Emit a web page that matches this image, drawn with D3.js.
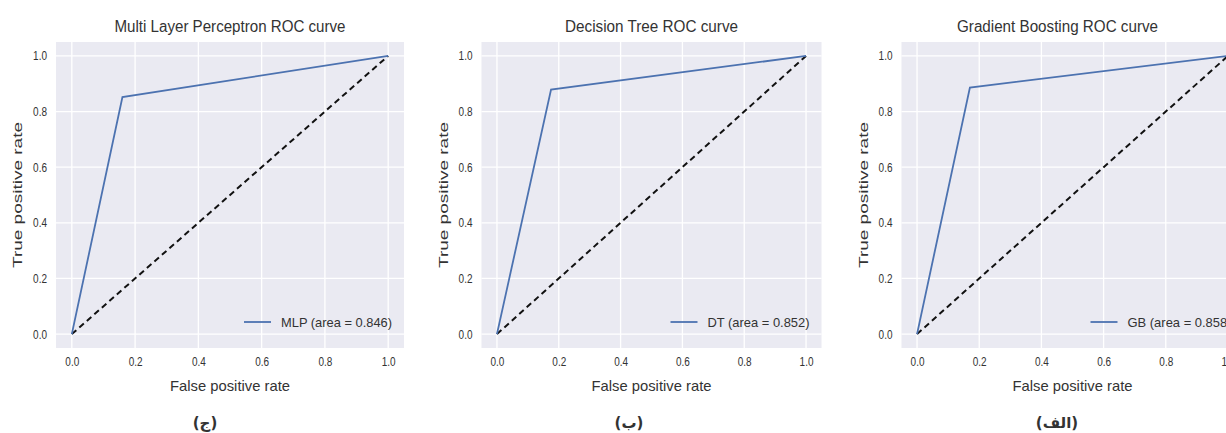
<!DOCTYPE html>
<html>
<head>
<meta charset="utf-8">
<script src="https://cdn.jsdelivr.net/npm/d3@7"></script>
<style>
  body { margin: 0; background: #fff; }
  text { font-family: "Liberation Sans", Arial, sans-serif; fill: #333; }
</style>
</head>
<body>
<div id="chart"></div>
<script>
// ROC data (knee points chosen so the areas match the legend)
var models = ["MLP", "DT", "GB"];
var titles = ["Multi Layer Perceptron ROC curve", "Decision Tree ROC curve", "Gradient Boosting ROC curve"];
var mlpFpr = [0, 0.16, 1];
var mlpTpr = [0, 0.852, 1];
var dtFpr = [0, 0.175, 1];
var dtTpr = [0, 0.879, 1];
var gbFpr = [0, 0.17, 1];
var gbTpr = [0, 0.886, 1];
var aucs = [0.846, 0.852, 0.858];
var panelLetters = ["(ج)", "(ب)", "(الف)"];
var tickValues = [0, 0.2, 0.4, 0.6, 0.8, 1.0];
var chanceLine = [0, 1];

var fprs = [mlpFpr, dtFpr, gbFpr];
var tprs = [mlpTpr, dtTpr, gbTpr];

var W = 1226, H = 433;
var plotTop = 42, plotBottom = 348;
// plot area of each panel (left/right edge of grey background), letter label centre
var panels = [
  {left: 56, right: 404, letterX: 205, titleW: 231, legW: 111},
  {left: 481.5, right: 821.5, letterX: 629, titleW: 173, legW: 102},
  {left: 901.5, right: 1243.5, letterX: 1057, titleW: 201, legW: 104}
];

var svg = d3.select("#chart")
  .append("svg")
    .attr("width", W)
    .attr("height", H);

var sx = 0.8; // the picture's text looks narrow

function squish(sel) {
  sel.attr("transform", function() {
    var x = +d3.select(this).attr("x") || 0;
    return "translate(" + x + ",0) scale(" + sx + ",1) translate(" + (-x) + ",0)";
  });
}

panels.forEach(function(p, i) {
  var x = d3.scaleLinear().domain([-0.05, 1.05]).range([p.left, p.right]);
  var y = d3.scaleLinear().domain([-0.05, 1.05]).range([plotBottom, plotTop]);

  var g = svg.append("g");

  // background
  g.append("rect")
    .attr("x", p.left)
    .attr("y", plotTop)
    .attr("width", p.right - p.left)
    .attr("height", plotBottom - plotTop)
    .attr("fill", "#EAEAF2");

  // grid
  g.selectAll(".vgrid")
    .data(tickValues)
    .enter().append("line")
      .attr("x1", function(d) { return x(d); })
      .attr("x2", function(d) { return x(d); })
      .attr("y1", plotTop)
      .attr("y2", plotBottom)
      .attr("stroke", "#fff")
      .attr("stroke-width", 1.3);
  g.selectAll(".hgrid")
    .data(tickValues)
    .enter().append("line")
      .attr("y1", function(d) { return y(d); })
      .attr("y2", function(d) { return y(d); })
      .attr("x1", p.left)
      .attr("x2", p.right)
      .attr("stroke", "#fff")
      .attr("stroke-width", 1.3);

  // axes (no domain line, no tick marks)
  var xAxis = g.append("g")
    .attr("transform", "translate(0," + plotBottom + ")")
    .call(d3.axisBottom(x).tickValues(tickValues).tickSize(0).tickPadding(9).tickFormat(d3.format(".1f")));
  var yAxis = g.append("g")
    .attr("transform", "translate(" + p.left + ",0)")
    .call(d3.axisLeft(y).tickValues(tickValues).tickSize(0).tickPadding(9).tickFormat(d3.format(".1f")));
  [xAxis, yAxis].forEach(function(a) {
    a.select(".domain").remove();
    a.selectAll("text")
      .style("font-size", "12.5px")
      .style("font-family", "Liberation Sans, Arial, sans-serif")
      .attr("fill", "#555")
      .call(squish);
  });

  // chance line
  g.append("path")
    .datum(chanceLine)
    .attr("fill", "none")
    .attr("stroke", "#111")
    .attr("stroke-width", 2)
    .attr("stroke-dasharray", "6,4")
    .attr("d", d3.line()
      .x(function(d) { return x(d); })
      .y(function(d) { return y(d); }));

  // ROC curve
  var pts = fprs[i].map(function(f, j) { return [f, tprs[i][j]]; });
  g.append("path")
    .datum(pts)
    .attr("fill", "none")
    .attr("stroke", "#4C72B0")
    .attr("stroke-width", 1.8)
    .attr("d", d3.line()
      .x(function(d) { return x(d[0]); })
      .y(function(d) { return y(d[1]); }));

  // title
  g.append("text")
    .attr("x", (p.left + p.right) / 2 + (i == 2 ? -15 : 0))
    .attr("y", 32)
    .attr("text-anchor", "middle")
    .attr("textLength", p.titleW)
    .attr("lengthAdjust", "spacingAndGlyphs")
    .style("font-size", "16px")
    .text(titles[i]);

  // axis labels
  g.append("text")
    .attr("x", x(0.5))
    .attr("y", 391)
    .attr("text-anchor", "middle")
    .attr("textLength", 120)
    .attr("lengthAdjust", "spacingAndGlyphs")
    .style("font-size", "14.5px")
    .text("False positive rate");
  g.append("text")
    .attr("transform", "translate(" + (p.left - 34) + "," + ((plotTop + plotBottom) / 2) + ") rotate(-90)")
    .attr("text-anchor", "middle")
    .attr("textLength", 146)
    .attr("lengthAdjust", "spacingAndGlyphs")
    .style("font-size", "12px")
    .text("True positive rate");

  // legend
  var legEnd = p.right - 12;
  var legStart = legEnd - p.legW;
  g.append("line")
    .attr("x1", legStart - 37)
    .attr("x2", legStart - 10)
    .attr("y1", 322)
    .attr("y2", 322)
    .attr("stroke", "#4C72B0")
    .attr("stroke-width", 1.8);
  g.append("text")
    .attr("x", legStart)
    .attr("y", 327)
    .attr("textLength", p.legW)
    .attr("lengthAdjust", "spacingAndGlyphs")
    .style("font-size", "13.5px")
    .text(models[i] + " (area = " + aucs[i].toFixed(3) + ")");

  // panel letter
  g.append("text")
    .attr("x", p.letterX)
    .attr("y", 428)
    .attr("text-anchor", "middle")
    .style("font-family", "DejaVu Sans, sans-serif")
    .style("font-weight", "bold")
    .style("font-size", "15px")
    .attr("fill", "#111")
    .text(panelLetters[i]);
});
</script>
</body>
</html>
